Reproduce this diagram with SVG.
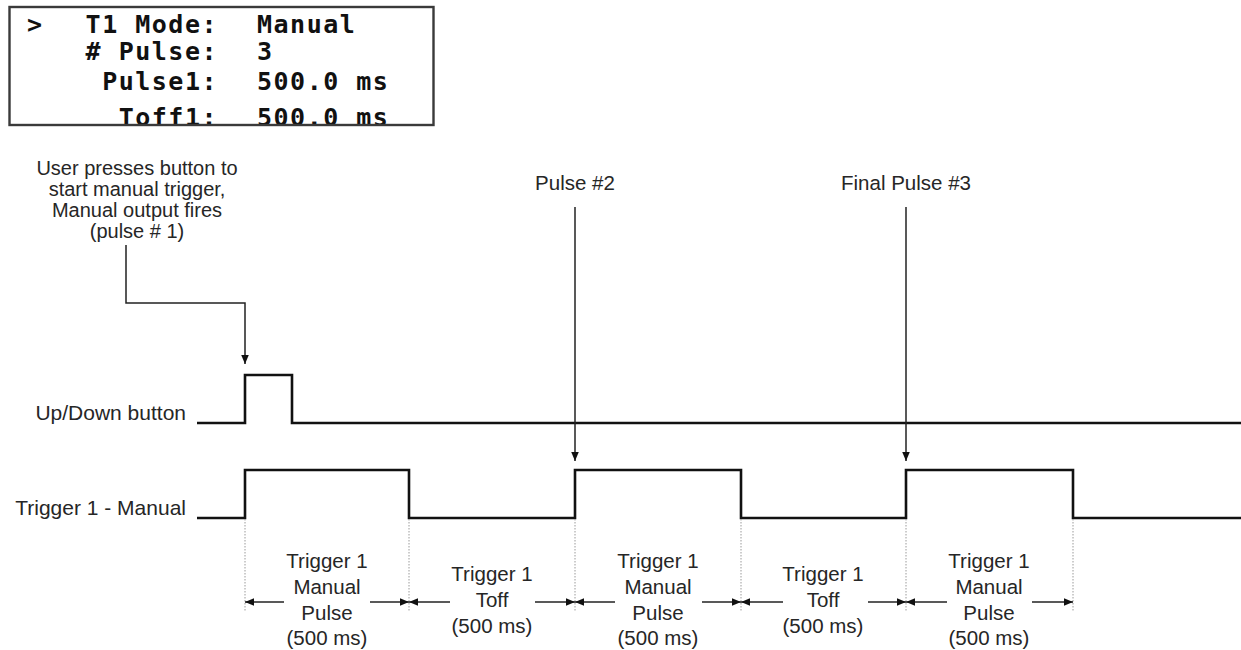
<svg xmlns="http://www.w3.org/2000/svg" width="1241" height="650" viewBox="0 0 1241 650">
  <style>
    .t { font-family: "Liberation Sans", Arial, sans-serif; font-size: 20.5px; fill: #262626; }
    .lbl { font-size: 21px; }
    .note { font-size: 20px; }
    .c { text-anchor: middle; }
    .r { text-anchor: end; }
    .lcd { font-family: "DejaVu Sans Mono", monospace; font-weight: bold; font-size: 25px; letter-spacing: 1.5px; fill: #111; }
    .sig { fill: none; stroke: #111; stroke-width: 2.6; stroke-linejoin: miter; stroke-linecap: butt; }
    .conn { fill: none; stroke: #222; stroke-width: 1.5; }
    .dot { fill: none; stroke: #9a9a9a; stroke-width: 1; stroke-dasharray: 1.5 1.5; }
  </style>
  <defs>
    <marker id="ah" viewBox="0 0 10 10" refX="10" refY="5" markerWidth="9" markerHeight="9" markerUnits="userSpaceOnUse" orient="auto">
      <path d="M0,0.8 L10,5 L0,9.2 z" fill="#111"/>
    </marker>
    <clipPath id="boxclip">
      <rect x="9" y="7" width="425" height="117"/>
    </clipPath>
  </defs>
  <rect width="1241" height="650" fill="#ffffff"/>

  <g id="lcd-box">
    <g clip-path="url(#boxclip)">
      <text class="lcd" x="27" y="33">&gt;</text>
      <text class="lcd r" x="218" y="33">T1 Mode:</text>
      <text class="lcd" x="257" y="33">Manual</text>
      <text class="lcd r" x="218" y="60"># Pulse:</text>
      <text class="lcd" x="257" y="60">3</text>
      <text class="lcd r" x="218" y="90">Pulse1:</text>
      <text class="lcd" x="257" y="90">500.0 ms</text>
      <text class="lcd r" x="218" y="126">Toff1:</text>
      <text class="lcd" x="257" y="126">500.0 ms</text>
    </g>
    <rect x="9.5" y="7" width="424" height="118" fill="none" stroke="#3a3a3a" stroke-width="2.4"/>
  </g>

  <g id="note-press">
    <text class="t note c" x="137" y="175">User presses button to</text>
    <text class="t note c" x="137" y="196">start manual trigger,</text>
    <text class="t note c" x="137" y="217">Manual output fires</text>
    <text class="t note c" x="137" y="238">(pulse # 1)</text>
  </g>
  <g id="note-pulse2">
    <text class="t c" x="575" y="190">Pulse #2</text>
  </g>
  <g id="note-pulse3">
    <text class="t c" x="906" y="190">Final Pulse #3</text>
  </g>

  <g id="signal-updown">
    <text class="t lbl r" x="186" y="420">Up/Down button</text>
    <path class="sig" d="M197 423 H245 V375 H292 V423 H1241"/>
  </g>
  <g id="signal-trigger">
    <text class="t lbl r" x="186" y="515">Trigger 1 - Manual</text>
    <path class="sig" d="M197 518 H245 V470 H409 V518 H575 V470 H741 V518 H906 V470 H1073 V518 H1241"/>
  </g>

  <g id="guides">
    <path class="dot" d="M245 519 V612 M409 519 V612 M575 519 V612 M741 519 V612 M906 519 V612 M1073 519 V612"/>
  </g>

  <g id="span-pulse1">
    <text class="t c" x="327" y="568">Trigger 1</text>
    <text class="t c" x="327" y="594">Manual</text>
    <text class="t c" x="327" y="620">Pulse</text>
    <text class="t c" x="327" y="645">(500 ms)</text>
  </g>
  <g id="span-toff1">
    <text class="t c" x="492" y="581">Trigger 1</text>
    <text class="t c" x="492" y="607">Toff</text>
    <text class="t c" x="492" y="633">(500 ms)</text>
  </g>
  <g id="span-pulse2">
    <text class="t c" x="658" y="568">Trigger 1</text>
    <text class="t c" x="658" y="594">Manual</text>
    <text class="t c" x="658" y="620">Pulse</text>
    <text class="t c" x="658" y="645">(500 ms)</text>
  </g>
  <g id="span-toff2">
    <text class="t c" x="823" y="581">Trigger 1</text>
    <text class="t c" x="823" y="607">Toff</text>
    <text class="t c" x="823" y="633">(500 ms)</text>
  </g>
  <g id="span-pulse3">
    <text class="t c" x="989" y="568">Trigger 1</text>
    <text class="t c" x="989" y="594">Manual</text>
    <text class="t c" x="989" y="620">Pulse</text>
    <text class="t c" x="989" y="645">(500 ms)</text>
  </g>

  <g id="connectors">
    <path class="conn" d="M126 245 V303 H245 V364" marker-end="url(#ah)"/>
    <path class="conn" d="M575 207 V461" marker-end="url(#ah)"/>
    <path class="conn" d="M906 207 V461" marker-end="url(#ah)"/>
    <path class="conn" d="M284 602 H245" marker-end="url(#ah)"/>
    <path class="conn" d="M370 602 H409" marker-end="url(#ah)"/>
    <path class="conn" d="M450 602 H409" marker-end="url(#ah)"/>
    <path class="conn" d="M535 602 H575" marker-end="url(#ah)"/>
    <path class="conn" d="M615 602 H575" marker-end="url(#ah)"/>
    <path class="conn" d="M702 602 H741" marker-end="url(#ah)"/>
    <path class="conn" d="M783 602 H741" marker-end="url(#ah)"/>
    <path class="conn" d="M868 602 H906" marker-end="url(#ah)"/>
    <path class="conn" d="M947 602 H906" marker-end="url(#ah)"/>
    <path class="conn" d="M1032 602 H1073" marker-end="url(#ah)"/>
  </g>
</svg>
